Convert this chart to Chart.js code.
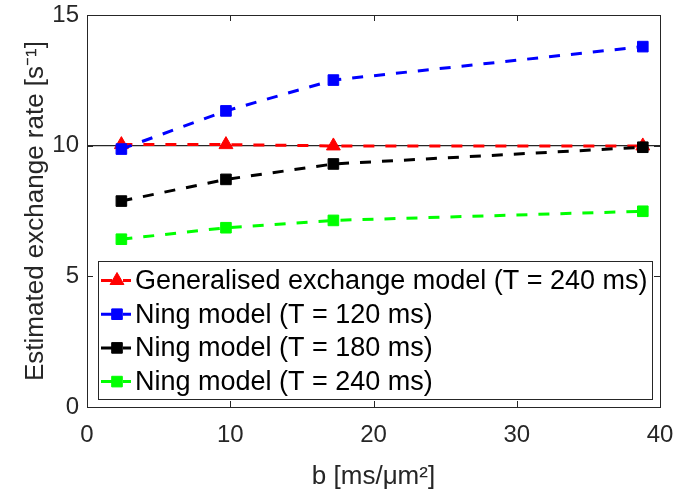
<!DOCTYPE html>
<html>
<head>
<meta charset="utf-8">
<script src="https://cdn.jsdelivr.net/npm/chart.js@4.4.1/dist/chart.umd.min.js"></script>
<style>
  html, body { margin: 0; padding: 0; background: #ffffff; }
  #wrap { width: 678px; height: 496px; position: relative; }
</style>
</head>
<body>
<div id="wrap"><canvas id="c" width="678" height="496"></canvas></div>
<script>
// ---- data ----
const bValues = [2.4, 9.7, 17.2, 38.8];               // b [ms/μm²]
const generalisedT240 = [10.04, 10.04, 9.99, 9.99];   // Generalised exchange model (T = 240 ms)
const ningT120 = [9.87, 11.33, 12.51, 13.79];         // Ning model (T = 120 ms)
const ningT180 = [7.88, 8.71, 9.30, 9.94];            // Ning model (T = 180 ms)
const ningT240 = [6.42, 6.86, 7.14, 7.49];            // Ning model (T = 240 ms)
const referenceRate = [10];                           // horizontal reference line
const xTickValues = [0, 10, 20, 30, 40];
const yTickValues = [0, 5, 10, 15];
const seriesLabels = [
  'Generalised exchange model (T = 240 ms)',
  'Ning model (T = 120 ms)',
  'Ning model (T = 180 ms)',
  'Ning model (T = 240 ms)'
];

const FONT = '"Liberation Sans", Arial, Helvetica, sans-serif';
const AXIS_COLOR = '#262626';

const toPoints = (ys) => ys.map((y, i) => ({ x: bValues[i], y: y }));
const xMin = xTickValues[0], xMax = xTickValues[xTickValues.length - 1];
const yMin = yTickValues[0], yMax = yTickValues[yTickValues.length - 1];

const seriesStyles = [
  { color: '#ff0000', pointStyle: 'triangle', radius: 8 },
  { color: '#0000ff', pointStyle: 'rect', radius: 7.5 },
  { color: '#000000', pointStyle: 'rect', radius: 7.5 },
  { color: '#00ff00', pointStyle: 'rect', radius: 7.5 }
];
const seriesData = [generalisedT240, ningT120, ningT180, ningT240];

const datasets = seriesData.map((vals, i) => ({
  label: seriesLabels[i],
  data: toPoints(vals),
  borderColor: seriesStyles[i].color,
  backgroundColor: seriesStyles[i].color,
  pointBackgroundColor: seriesStyles[i].color,
  pointBorderColor: seriesStyles[i].color,
  pointBorderWidth: 1,
  pointStyle: seriesStyles[i].pointStyle,
  pointRadius: seriesStyles[i].radius,
  pointHoverRadius: seriesStyles[i].radius,
  borderWidth: 3,
  borderDash: [11, 11],
  borderCapStyle: 'butt',
  tension: 0,
  fill: false,
  order: 4 - i
}));
datasets.push({
  label: 'reference',
  data: [{ x: xMin, y: referenceRate[0] }, { x: xMax, y: referenceRate[0] }],
  borderColor: '#262626',
  borderWidth: 1.2,
  pointRadius: 0,
  fill: false,
  order: 10
});

// frame with inward ticks (MATLAB box style)
const framePlugin = {
  id: 'frame',
  afterDraw(chart) {
    const { ctx, chartArea: a, scales } = chart;
    ctx.save();
    ctx.strokeStyle = AXIS_COLOR;
    ctx.lineWidth = 1;
    ctx.setLineDash([]);
    ctx.strokeRect(Math.round(a.left) + 0.5, Math.round(a.top) + 0.5,
                   Math.round(a.right - a.left), Math.round(a.bottom - a.top));
    const tl = 6;
    ctx.beginPath();
    xTickValues.forEach(v => {
      const x = Math.round(scales.x.getPixelForValue(v)) + 0.5;
      ctx.moveTo(x, a.bottom); ctx.lineTo(x, a.bottom - tl);
      ctx.moveTo(x, a.top); ctx.lineTo(x, a.top + tl);
    });
    yTickValues.forEach(v => {
      const y = Math.round(scales.y.getPixelForValue(v)) + 0.5;
      ctx.moveTo(a.left, y); ctx.lineTo(a.left + tl, y);
      ctx.moveTo(a.right, y); ctx.lineTo(a.right - tl, y);
    });
    ctx.stroke();
    ctx.restore();
  }
};

// legend drawn inside the axes, lower part
const insideLegend = {
  id: 'insideLegend',
  afterDraw(chart) {
    const { ctx, chartArea: a } = chart;
    const box = { left: a.left + 11, right: a.right - 8, top: 261.5, bottom: 399.5 };
    ctx.save();
    ctx.fillStyle = '#ffffff';
    ctx.fillRect(box.left, box.top, box.right - box.left, box.bottom - box.top);
    ctx.strokeStyle = AXIS_COLOR;
    ctx.lineWidth = 1;
    ctx.strokeRect(Math.round(box.left) + 0.5, box.top, Math.round(box.right - box.left), box.bottom - box.top);
    const rowH = 33.7;
    const firstY = 280.5;
    chart.data.datasets.slice(0, seriesLabels.length).forEach((ds, i) => {
      const y = firstY + i * rowH;
      const x0 = box.left + 3, x1 = box.left + 33, xm = box.left + 19;
      ctx.strokeStyle = ds.borderColor;
      ctx.lineWidth = 3;
      ctx.setLineDash([11, 11]);
      ctx.beginPath(); ctx.moveTo(x0, y); ctx.lineTo(x1, y); ctx.stroke();
      ctx.setLineDash([]);
      ctx.fillStyle = ds.backgroundColor;
      ctx.strokeStyle = ds.borderColor;
      ctx.lineWidth = 1;
      Chart.helpers.drawPoint(ctx, { pointStyle: ds.pointStyle, radius: ds.pointRadius, rotation: 0, borderWidth: 1 }, xm, y);
      ctx.fillStyle = '#000000';
      ctx.font = '27px ' + FONT;
      ctx.textAlign = 'left';
      ctx.textBaseline = 'middle';
      ctx.fillText(ds.label, box.left + 37, y + 1);
    });
    ctx.restore();
  }
};

new Chart(document.getElementById('c'), {
  type: 'line',
  data: { datasets },
  options: {
    responsive: false,
    animation: false,
    devicePixelRatio: 1,
    layout: { padding: { top: 15, right: 18, left: 0, bottom: 0 } },
    plugins: { legend: { display: false }, tooltip: { enabled: false } },
    scales: {
      x: {
        type: 'linear', min: xMin, max: xMax,
        afterBuildTicks: (s) => { s.ticks = xTickValues.map(v => ({ value: v })); },
        afterFit: (s) => { s.height = 89; s.paddingLeft = 0; s.paddingRight = 0; },
        grid: { display: false, drawTicks: false },
        border: { display: false },
        ticks: { color: AXIS_COLOR, font: { family: FONT, size: 24 }, padding: 14, maxRotation: 0 },
        title: { display: true, text: 'b [ms/μm²]', color: AXIS_COLOR, font: { family: FONT, size: 26 }, padding: { top: 0, bottom: 4 } }
      },
      y: {
        type: 'linear', min: yMin, max: yMax,
        afterBuildTicks: (s) => { s.ticks = yTickValues.map(v => ({ value: v })); },
        afterFit: (s) => { s.width = 87; s.paddingTop = 0; s.paddingBottom = 0; },
        grid: { display: false, drawTicks: false },
        border: { display: false },
        ticks: { color: AXIS_COLOR, font: { family: FONT, size: 24 }, padding: 8 },
        title: { display: true, text: 'Estimated exchange rate [s⁻¹]', color: AXIS_COLOR, font: { family: FONT, size: 26 }, padding: { top: 20, bottom: 0 } }
      }
    }
  },
  plugins: [framePlugin, insideLegend]
});
</script>
</body>
</html>
